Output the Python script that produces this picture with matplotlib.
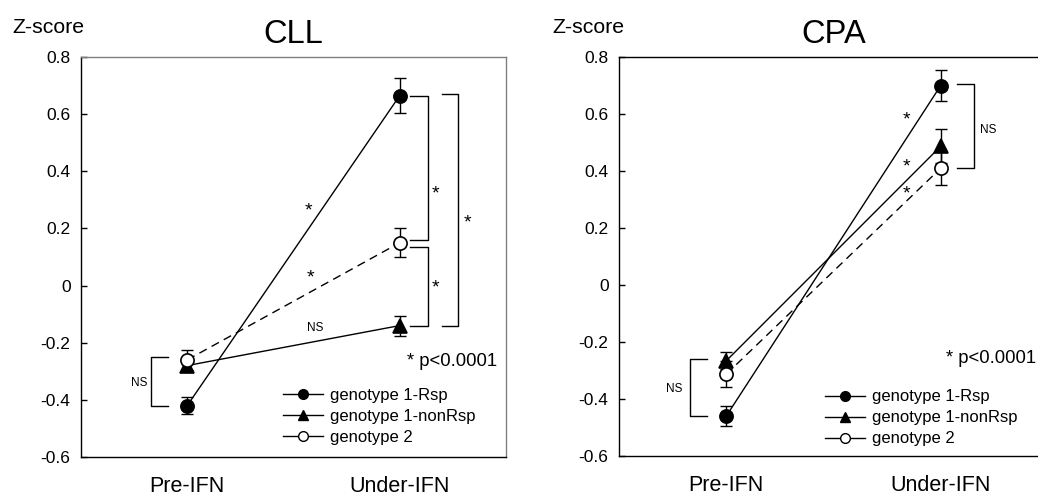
import numpy as np
import matplotlib
matplotlib.use("Agg")
from matplotlib import pyplot as plt
from matplotlib.lines import Line2D

plt.rcParams['font.family'] = ['Liberation Sans', 'DejaVu Sans']

# time points
phases = ['Pre-IFN', 'Under-IFN']
groups = ['genotype 1-Rsp', 'genotype 1-nonRsp', 'genotype 2']

# CLL z-scores (mean, error)
cll_mean = {'genotype 1-Rsp': [-0.42, 0.665],
            'genotype 1-nonRsp': [-0.28, -0.14],
            'genotype 2': [-0.26, 0.15]}
cll_err = {'genotype 1-Rsp': [0.03, 0.06],
           'genotype 1-nonRsp': [0.02, 0.035],
           'genotype 2': [0.035, 0.05]}

# CPA z-scores (mean, error)
cpa_mean = {'genotype 1-Rsp': [-0.46, 0.70],
            'genotype 1-nonRsp': [-0.266, 0.487],
            'genotype 2': [-0.313, 0.41]}
cpa_err = {'genotype 1-Rsp': [0.035, 0.055],
           'genotype 1-nonRsp': [0.03, 0.06],
           'genotype 2': [0.045, 0.06]}

styles = {'genotype 1-Rsp': dict(marker='o', mfc='black', ls='-', ms=9.5),
          'genotype 1-nonRsp': dict(marker='^', mfc='black', ls='-', ms=10),
          'genotype 2': dict(marker='o', mfc='white', ls=(0, (6, 4)), ms=9.5)}

NS_FONT = dict(fontsize=8.5, ha='center', va='center')
STAR = dict(fontsize=14, ha='center', va='center')


def draw_series(ax, means, errs):
    x = np.arange(len(phases))
    for g in groups:
        st = styles[g]
        ax.plot(x, means[g], color='black', lw=1.0, ls=st['ls'], zorder=2)
        ax.errorbar(x, means[g], yerr=errs[g], fmt='none', ecolor='black',
                    elinewidth=1.0, capsize=4.5, capthick=1.0, zorder=3)
        ax.plot(x, means[g], ls='none', marker=st['marker'], ms=st['ms'],
                mfc=st['mfc'], mec='black', mew=1.2, zorder=4)


def bracket(ax, x0, x1, y0, y1):
    # vertical bracket opening toward x0
    ax.plot([x0, x1, x1, x0], [y0, y0, y1, y1], color='black', lw=1.0,
            zorder=1, clip_on=False)


def setup(ax, title):
    ax.set_xlim(-0.5, 1.5)
    ax.set_ylim(-0.6, 0.8)
    ax.set_yticks(np.arange(-0.6, 0.81, 0.2))
    ax.set_yticklabels(['-0.6', '-0.4', '-0.2', '0', '0.2', '0.4', '0.6', '0.8'])
    ax.set_xticks(range(len(phases)))
    ax.set_xticklabels(phases, fontsize=15.5)
    ax.tick_params(axis='x', length=0, pad=14)
    ax.tick_params(axis='y', direction='in', length=4.5, width=1, labelsize=12.5, pad=7.5)
    ax.set_title(title, fontsize=23.5, pad=10)
    legend_handles = [Line2D([], [], color='black', lw=1.0, marker=styles[g]['marker'],
                             ms=7, mfc=styles[g]['mfc'], mec='black')
                      for g in groups]
    return legend_handles


def add_legend(ax, handles, anchor):
    ax.legend(handles, groups, loc='upper left', bbox_to_anchor=anchor,
              frameon=False, fontsize=12, handlelength=2.4, handletextpad=0.42,
              labelspacing=0.36, borderpad=0, borderaxespad=0)


fig = plt.figure(figsize=(10.38, 4.98), dpi=100)

# ---- CLL ----
ax1 = fig.add_axes([81 / 1038, 41 / 498, 425 / 1038, 400 / 498])
h = setup(ax1, 'CLL')
draw_series(ax1, cll_mean, cll_err)
for s in ['top', 'right']:
    ax1.spines[s].set_color('#808080')
for s in ax1.spines.values():
    s.set_linewidth(1.0)

r, n, g2 = cll_mean['genotype 1-Rsp'], cll_mean['genotype 1-nonRsp'], cll_mean['genotype 2']
bracket(ax1, 1.047, 1.132, r[1], g2[1] + 0.01)
bracket(ax1, 1.047, 1.132, g2[1] - 0.015, n[1])
bracket(ax1, 1.198, 1.274, r[1] + 0.005, n[1])
bracket(ax1, -0.09, -0.17, g2[0] + 0.01, r[0])
ax1.text(1.17, 0.32, '*', **STAR)
ax1.text(1.17, -0.01, '*', **STAR)
ax1.text(1.32, 0.22, '*', **STAR)
ax1.text(0.57, 0.26, '*', **STAR)
ax1.text(0.58, 0.025, '*', **STAR)
ax1.text(0.60, -0.15, 'NS', **NS_FONT)
ax1.text(-0.225, -0.34, 'NS', **NS_FONT)
ax1.text(1.46, -0.265, '* p<0.0001', fontsize=13.3, ha='right', va='center')
add_legend(ax1, h, (0.475, 0.172))

# ---- CPA ----
ax2 = fig.add_axes([619 / 1038, 42 / 498, 429 / 1038, 399 / 498])
h = setup(ax2, 'CPA')
draw_series(ax2, cpa_mean, cpa_err)
ax2.spines['right'].set_visible(False)
for s in ax2.spines.values():
    s.set_linewidth(1.0)

r, n, g2 = cpa_mean['genotype 1-Rsp'], cpa_mean['genotype 1-nonRsp'], cpa_mean['genotype 2']
bracket(ax2, -0.09, -0.168, n[0] + 0.005, r[0])
bracket(ax2, 1.075, 1.154, r[1] + 0.005, g2[1])
ax2.text(-0.245, -0.364, 'NS', **NS_FONT)
ax2.text(1.22, 0.543, 'NS', **NS_FONT)
ax2.text(0.84, 0.58, '*', **STAR)
ax2.text(0.84, 0.415, '*', **STAR)
ax2.text(0.84, 0.32, '*', **STAR)
ax2.text(1.445, -0.259, '* p<0.0001', fontsize=13.3, ha='right', va='center')
add_legend(ax2, h, (0.48, 0.167))

fig.text(12 / 1038, 1 - 33 / 498, 'Z-score', fontsize=15.3, ha='left', va='baseline')
fig.text(552 / 1038, 1 - 33 / 498, 'Z-score', fontsize=15.3, ha='left', va='baseline')

fig.savefig('out.png', dpi=100)
